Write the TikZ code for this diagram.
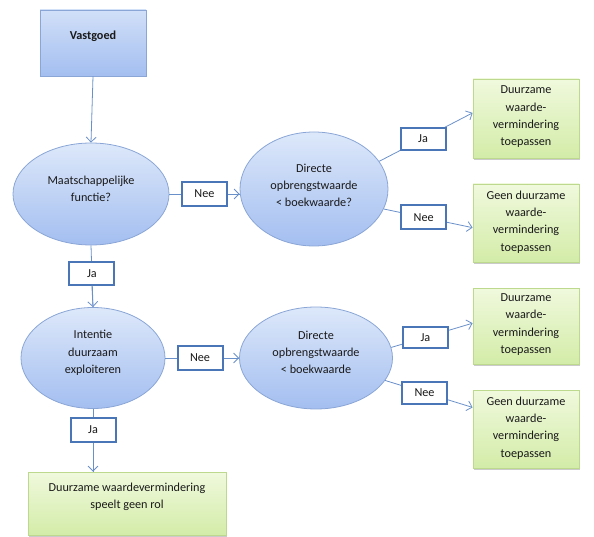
\documentclass[tikz,border=0pt]{standalone}
\usepackage{fontspec}
\setmainfont{Carlito}
\usetikzlibrary{shapes.geometric,arrows.meta,shadows}
\definecolor{ebord}{HTML}{8AA6D6}
\definecolor{etop}{HTML}{DDE8FA}
\definecolor{ebot}{HTML}{A3BEF0}
\definecolor{gtop}{HTML}{F0F9DD}
\definecolor{gbot}{HTML}{D3ECA8}
\definecolor{gbord}{HTML}{BCD98E}
\definecolor{lblue}{HTML}{4A76B8}
\definecolor{conn}{HTML}{6A90CA}
\definecolor{txtc}{HTML}{1A1A1A}
\tikzset{
  every node/.style={font=\fontsize{12.2}{17.3}\selectfont, align=center, inner sep=0pt, text=txtc},
  ell/.style={ellipse, draw=ebord, line width=0.8pt, top color=etop, bottom color=ebot},
  bluebox/.style={rectangle, draw=ebord, line width=0.8pt, top color=etop!80!ebot, bottom color=ebot},
  greenbox/.style={rectangle, draw=gbord, line width=0.8pt, top color=gtop, bottom color=gbot,
     drop shadow={opacity=0.35, shadow xshift=0.6pt, shadow yshift=-1.6pt, fill=black!60}},
  lbl/.style={rectangle, draw=lblue, line width=2pt, fill=white, minimum width=45pt},
  conn/.style={draw=conn, line width=0.8pt, -{Straight Barb[length=5pt,width=10pt]}},
  plain/.style={draw=conn, line width=0.8pt},
  txt/.style={}
}
\begin{document}
\begin{tikzpicture}[x=1pt,y=-1pt]
\useasboundingbox (0,0) rectangle (594,537);
\node[bluebox, minimum width=106pt, minimum height=66pt] (vast) at (93,43) {};
\node[txt, font=\fontsize{12.2}{17.3}\selectfont\bfseries] (vastt) at (93,36) {Vastgoed};
\node[ell, minimum width=156pt, minimum height=102pt] (e1) at (91,194) {};
\node[txt] (e1t) at (91,188.5) {Maatschappelijke\\functie?};
\node[ell, minimum width=148pt, minimum height=114pt] (e2) at (314,189) {};
\node[txt] (e2t) at (314,185.5) {Directe\\opbrengstwaarde\\{<} boekwaarde?};
\node[ell, minimum width=144pt, minimum height=101pt] (e3) at (93,358) {};
\node[txt] (e3t) at (93,353) {Intentie\\duurzaam\\exploiteren};
\node[ell, minimum width=153pt, minimum height=102pt] (e4) at (316,358) {};
\node[txt] (e4t) at (316,352.5) {Directe\\opbrengstwaarde\\{<} boekwaarde};
\node[greenbox, minimum width=106pt, minimum height=79pt] (g1) at (526,118.5) {};
\node[txt] (g1t) at (526,117) {Duurzame\\waarde-\\vermindering\\toepassen};
\node[greenbox, minimum width=106pt, minimum height=78pt] (g2) at (526,223) {};
\node[txt] (g2t) at (526,222) {Geen duurzame\\waarde-\\vermindering\\toepassen};
\node[greenbox, minimum width=106pt, minimum height=76pt] (g3) at (526,326) {};
\node[txt] (g3t) at (526,324.5) {Duurzame\\waarde-\\vermindering\\toepassen};
\node[greenbox, minimum width=106pt, minimum height=78pt] (g4) at (526,429) {};
\node[txt] (g4t) at (526,428) {Geen duurzame\\waarde-\\vermindering\\toepassen};
\node[greenbox, minimum width=198pt, minimum height=63pt] (g5) at (127,503.5) {};
\node[txt] (g5t) at (127,497) {Duurzame waardevermindering\\speelt geen rol};

\draw[conn] (vast.south) -- (e1.north);
\draw[plain] (e1.east) -- node[lbl, minimum height=24pt, pos=0.5] (nee1) {Nee} (e1.east -| e2.west);
\draw[conn] (nee1.east) -- (e1.east -| e2.west);
\draw[plain] (e1.south) -- node[lbl, minimum height=23pt, pos=0.45] (ja1) {Ja} (e3.north);
\draw[conn] (ja1.south) -- (e3.north);
\draw[plain] (e3.south) -- node[lbl, minimum height=24pt, pos=0.33] (ja4) {Ja} (e3.south |- g5.north);
\draw[conn] (ja4.south) -- (e3.south |- g5.north);
\draw[plain] (e3.east) -- node[lbl, minimum height=24pt, pos=0.47] (nee3) {Nee} (e3.east -| e4.west);
\draw[conn] (nee3.east) -- (e3.east -| e4.west);

\draw[conn] (e2.23) -- node[lbl, minimum height=22pt, pos=0.47] (ja2) {Ja} (g1.174);
\draw[conn] (e2.-16) -- node[lbl, minimum height=24pt, pos=0.45] (nee2) {Nee} (g2.185);
\draw[conn] (e4.8) -- node[lbl, minimum height=21pt, pos=0.42] (ja3) {Ja} (g3.177);
\draw[conn] (e4.-18.5) -- node[lbl, minimum height=22pt, pos=0.45] (nee4) {Nee} (g4.158);
\end{tikzpicture}
\end{document}
